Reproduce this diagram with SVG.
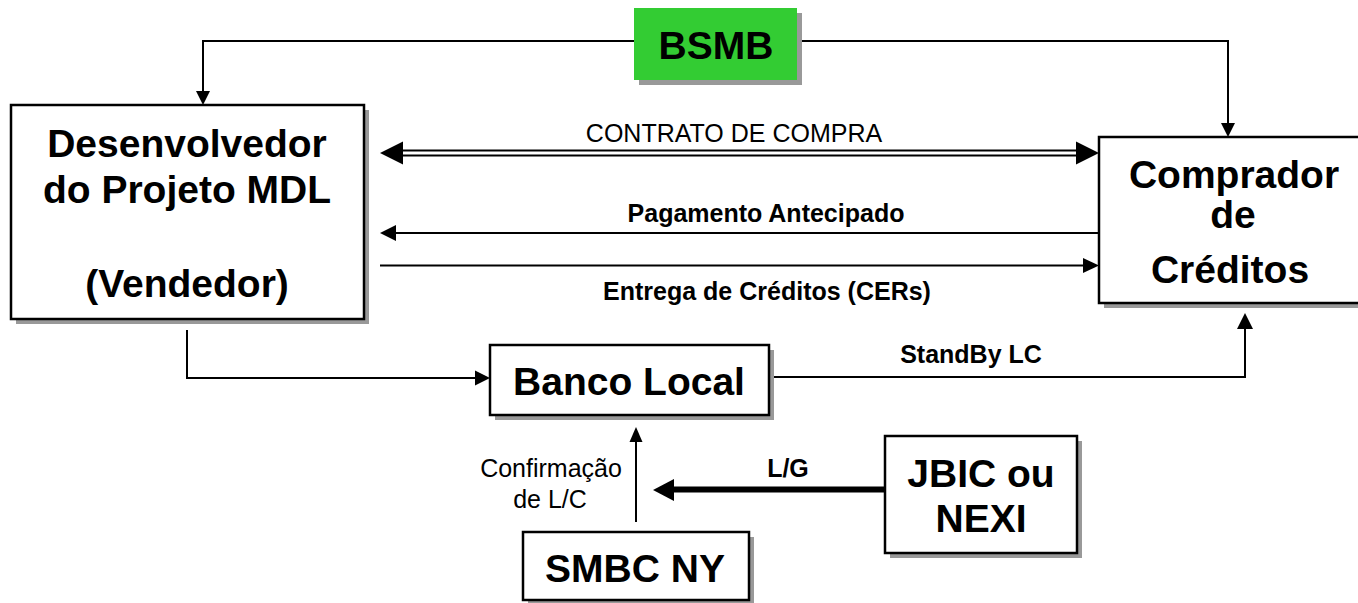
<svg xmlns="http://www.w3.org/2000/svg" width="1358" height="603" viewBox="0 0 1358 603">
<style>
.shadow{fill:#999999;stroke:none}
.box{fill:#ffffff;stroke:#000000;stroke-width:2.5}
.green{fill:#33CC33;stroke:none}
.nt{font-family:"Liberation Sans",Arial,sans-serif;font-weight:bold;font-size:39px;fill:#000;text-anchor:middle}
.lb{font-family:"Liberation Sans",Arial,sans-serif;font-weight:bold;font-size:25px;fill:#000;text-anchor:middle}
.ln{font-family:"Liberation Sans",Arial,sans-serif;font-weight:normal;font-size:25px;fill:#000;text-anchor:middle}
.wire{fill:none;stroke:#000;stroke-width:2}
.head{fill:#000;stroke:none}
</style>
<rect width="1358" height="603" fill="#ffffff"/>
<g id="connectors">
  <!-- BSMB to Desenvolvedor -->
  <polyline class="wire" points="634,41 203,41 203,92"/>
  <polygon class="head" points="196,91 210,91 203,105"/>
  <!-- BSMB to Comprador -->
  <polyline class="wire" points="797,41 1228,41 1228,124"/>
  <polygon class="head" points="1221,123 1235,123 1228,137"/>
  <!-- Contrato de compra double arrow -->
  <line x1="400" y1="153" x2="1080" y2="153" stroke="#000" stroke-width="7"/>
  <line x1="400" y1="153" x2="1080" y2="153" stroke="#fff" stroke-width="3"/>
  <polygon class="head" points="380,153 403,141.5 403,164.5"/>
  <polygon class="head" points="1099,153 1076,141.5 1076,164.5"/>
  <!-- Pagamento -->
  <line class="wire" x1="1099" y1="233" x2="394" y2="233"/>
  <polygon class="head" points="380,233 396,225 396,241"/>
  <!-- Entrega -->
  <line class="wire" x1="380" y1="265.5" x2="1085" y2="265.5"/>
  <polygon class="head" points="1099,265.5 1083,258 1083,273"/>
  <!-- Desenvolvedor to Banco Local -->
  <polyline class="wire" points="187,330 187,378 477,378"/>
  <polygon class="head" points="490,378 475,370.5 475,385.5"/>
  <!-- StandBy LC -->
  <polyline class="wire" points="770,377 1245,377 1245,327"/>
  <polygon class="head" points="1245,313 1237,329 1253,329"/>
  <!-- SMBC NY to Banco Local -->
  <line class="wire" x1="636" y1="522" x2="636" y2="440"/>
  <polygon class="head" points="636,427 629.5,442 642.5,442"/>
  <!-- L/G thick -->
  <line x1="885" y1="489.5" x2="670" y2="489.5" stroke="#000" stroke-width="6"/>
  <polygon class="head" points="653,490 674,479 674,501"/>
</g>
<g id="labels">
  <text class="ln" x="734" y="142">CONTRATO DE COMPRA</text>
  <text class="lb" x="766" y="222">Pagamento Antecipado</text>
  <text class="lb" x="767" y="300">Entrega de Créditos (CERs)</text>
  <text class="lb" x="971" y="363">StandBy LC</text>
  <text class="lb" x="788" y="477">L/G</text>
  <text class="ln" x="551" y="477">Confirmação</text>
  <text class="ln" x="550" y="508">de L/C</text>
</g>
<g id="bsmb">
  <rect class="shadow" x="639" y="13" width="163" height="72"/>
  <rect class="green" x="634" y="8" width="163" height="72"/>
  <text class="nt" x="716" y="59">BSMB</text>
</g>
<g id="desenvolvedor">
  <rect class="shadow" x="16" y="110" width="353" height="214"/>
  <rect class="box" x="11" y="105" width="353" height="214"/>
  <text class="nt" x="187" y="157">Desenvolvedor</text>
  <text class="nt" x="187" y="203">do Projeto MDL</text>
  <text class="nt" x="187" y="297">(Vendedor)</text>
</g>
<g id="comprador">
  <rect class="shadow" x="1104" y="142" width="280" height="166"/>
  <rect class="box" x="1099" y="137" width="280" height="166"/>
  <text class="nt" x="1234" y="188">Comprador</text>
  <text class="nt" x="1233" y="228">de</text>
  <text class="nt" x="1230" y="283">Créditos</text>
</g>
<g id="banco-local">
  <rect class="shadow" x="495" y="350" width="279" height="70"/>
  <rect class="box" x="490" y="345" width="279" height="70"/>
  <text class="nt" x="629" y="395">Banco Local</text>
</g>
<g id="smbc-ny">
  <rect class="shadow" x="528" y="537" width="226" height="70"/>
  <rect class="box" x="523" y="532" width="226" height="68"/>
  <text class="nt" x="635" y="582">SMBC NY</text>
</g>
<g id="jbic-nexi">
  <rect class="shadow" x="890" y="441" width="192" height="117"/>
  <rect class="box" x="885" y="436" width="192" height="117"/>
  <text class="nt" x="981" y="487">JBIC ou</text>
  <text class="nt" x="981" y="532">NEXI</text>
</g>
</svg>
